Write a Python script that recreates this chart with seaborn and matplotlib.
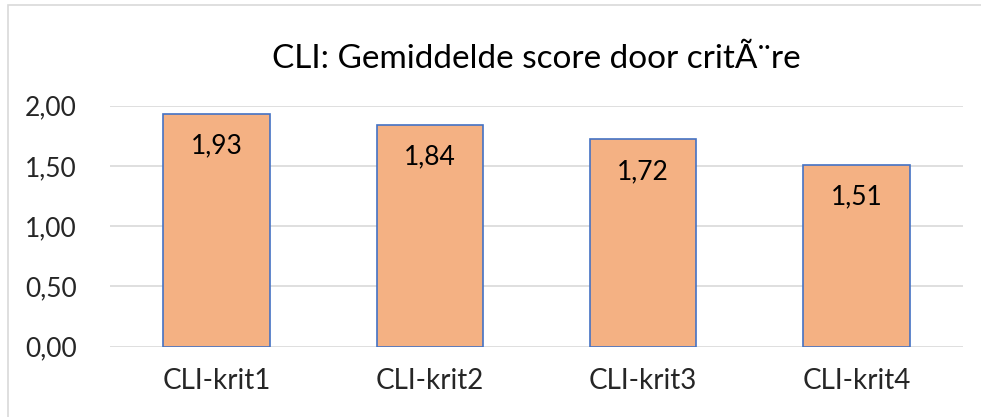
import matplotlib
matplotlib.use("Agg")
import matplotlib.pyplot as plt
import seaborn as sns
import pandas as pd
from matplotlib.patches import Rectangle

categories = ["CLI-krit1", "CLI-krit2", "CLI-krit3", "CLI-krit4"]
values = [1.93, 1.84, 1.72, 1.51]
yticks = [0.0, 0.5, 1.0, 1.5, 2.0]
ytick_labels = ["0,00", "0,50", "1,00", "1,50", "2,00"]
title = "CLI: Gemiddelde score door critÃ¨re"

sns.set_theme(style="white")
plt.rcParams['font.family'] = ['Lato', 'DejaVu Sans']

df = pd.DataFrame({"cat": categories, "val": values})

fig = plt.figure(figsize=(9.81, 4.17), dpi=100)
ax = fig.add_axes([110/981, 1 - 346.7/417, (963-110)/981, (346.7-105.7)/417])

sns.barplot(data=df, x="cat", y="val", ax=ax, color="#F4B183", width=0.5,
            edgecolor="#4472C4", linewidth=1.2, saturation=1)

ax.set_ylim(0, 2.0)
ax.set_xlim(-0.5, len(categories) - 0.5)
ax.set_yticks(yticks)
ax.set_yticklabels(ytick_labels, fontsize=19)
ax.tick_params(axis='x', labelsize=20, pad=15, length=0)
ax.tick_params(axis='y', pad=24, length=0)
ax.set_xlabel("")
ax.set_ylabel("")
ax.grid(axis='y', color="#D9D9D9", linewidth=1.2)
ax.set_axisbelow(True)
for s in ax.spines.values():
    s.set_visible(False)

for i, v in enumerate(values):
    ax.annotate(f"{v:.2f}".replace(".", ","), xy=(i, v), xytext=(0, -14),
                textcoords="offset points", ha="center", va="top",
                fontsize=19, color="black")

ax.set_title(title, fontsize=24, pad=27, color="black")

fig.patches.append(Rectangle((8/981, -0.1), 1.2, 1.1 - 5/417, transform=fig.transFigure,
                             fill=False, edgecolor="#D9D9D9", linewidth=1.2))

fig.savefig("out.png", dpi=100)
